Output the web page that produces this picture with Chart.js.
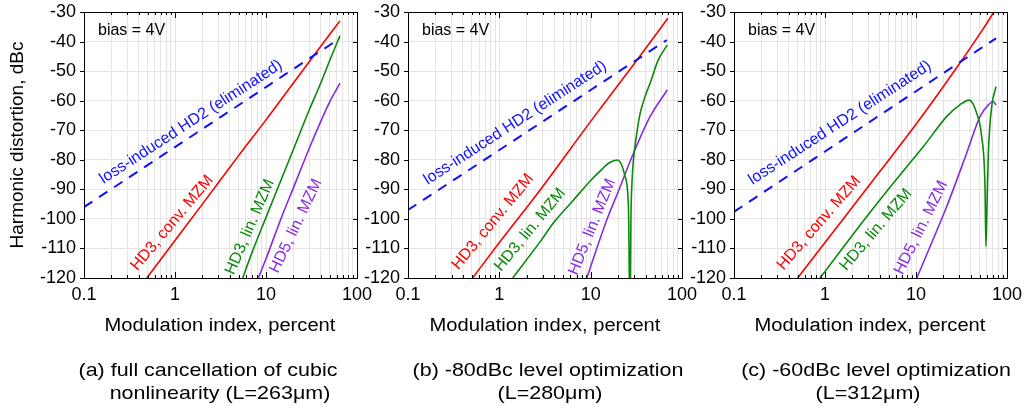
<!DOCTYPE html>
<html>
<head>
<meta charset="utf-8">
<script src="https://cdn.jsdelivr.net/npm/chart.js@4.4.1/dist/chart.umd.min.js"></script>
<style>
  html, body { margin: 0; padding: 0; background: #fff; }
  #wrap { position: relative; width: 1026px; height: 406px; overflow: hidden; }
  #wrap canvas { position: absolute; left: 0; top: 0; }
  .xtitle, .caption {
    position: absolute;
    font-family: "Liberation Sans", Arial, sans-serif;
    color: #000;
    text-align: center;
    white-space: nowrap;
    width: 400px;
  }
  .xtitle { font-size: 18px; line-height: 20px; top: 315px; transform: scaleX(1.12); }
  .caption { font-size: 19px; line-height: 23px; transform: scaleX(1.13); }
  .l1 { top: 358px; }
  .l2 { top: 381px; }
</style>
</head>
<body>
<div id="wrap">
  <canvas id="chartA" width="1026" height="406"></canvas>
  <canvas id="chartB" width="1026" height="406"></canvas>
  <canvas id="chartC" width="1026" height="406"></canvas>
  <div class="xtitle" style="left:20px">Modulation index, percent</div>
  <div class="xtitle" style="left:345px">Modulation index, percent</div>
  <div class="xtitle" style="left:670px">Modulation index, percent</div>
  <div class="caption l1" style="left:8px">(a) full cancellation of cubic</div>
  <div class="caption l2" style="left:20px">nonlinearity (L=263μm)</div>
  <div class="caption l1" style="left:348px">(b) -80dBc level optimization</div>
  <div class="caption l2" style="left:350px">(L=280μm)</div>
  <div class="caption l1" style="left:676px">(c) -60dBc level optimization</div>
  <div class="caption l2" style="left:668px">(L=312μm)</div>
</div>
<script>
// axis ticks
const xTickValues = [
  0.1, 0.2, 0.3, 0.4, 0.5, 0.6, 0.7, 0.8, 0.9,
  1, 2, 3, 4, 5, 6, 7, 8, 9,
  10, 20, 30, 40, 50, 60, 70, 80, 90, 100
];
const xTickLabels = ["0.1", "1", "10", "100"];
const yTickValues = [-120, -110, -100, -90, -80, -70, -60, -50, -40, -30];

// (a) full cancellation, L=263um
const aHd2X = [0.1, 1, 10, 65];
const aHd2Y = [-96, -75.7, -55.4, -38.9];
const aConvX = [0.49, 1, 2, 5, 10, 20, 40, 65];
const aConvY = [-120, -107.3, -95, -78.6, -66.5, -54, -41.6, -33];
const aLin3X = [5.55, 7, 10, 15, 20, 30, 40, 50, 65];
const aLin3Y = [-120, -111.5, -99.5, -86, -76.5, -63, -54, -46.5, -38];
const aLin5X = [8.24, 10, 15, 20, 30, 40, 50, 65];
const aLin5Y = [-120, -113.5, -99, -89.5, -76, -67, -60.5, -54.1];

// (b) -80dBc optimization, L=280um
const bHd2X = [0.1, 1, 10, 68];
const bHd2Y = [-97, -76.7, -56.4, -39.5];
const bConvX = [0.51, 1, 2.8, 10, 30, 70];
const bConvY = [-120, -108, -90.2, -67, -47.5, -32.1];
const bLin3X = [1.4, 2.8, 4, 6.5, 10, 13, 16, 19.6, 22, 23.8, 25.9, 27, 27.6, 28.3, 29.4, 32, 34.8, 40, 44.7, 55, 69];
const bLin3Y = [-120, -107.7, -101, -93.6, -87, -83.5, -81, -80.1, -82, -85.7, -95.9, -135, -100, -88, -80, -71, -64.3, -58, -54.1, -46.2, -41.2];
const bLin5X = [9.06, 15, 20, 29.4, 44.7, 69];
const bLin5Y = [-120, -100.4, -90.8, -77.8, -65.4, -56.4];

// (c) -60dBc optimization, L=312um
const cHd2X = [0.1, 1, 10, 75.7];
const cHd2Y = [-97.6, -77.2, -56.8, -38.9];
const cConvX = [0.5, 1, 4, 10, 30, 50, 70, 76];
const cConvY = [-120, -108, -84, -68, -47.5, -37.5, -30.5, -28.5];
const cLin3X = [0.88, 1, 2, 4, 8, 12, 21.7, 30, 38.5, 46.5, 52.7, 57.3, 58.7, 60.5, 62.4, 67.9, 75.7];
const cLin3Y = [-120, -117.8, -105.5, -93.6, -82.2, -75.6, -65.4, -61.5, -59.8, -64.3, -72.2, -89.1, -109.4, -94, -77.8, -62, -55.3];
const cLin5X = [10.2, 15, 21.7, 36, 50.5, 62, 70.8, 75.7];
const cLin5Y = [-120, -107.8, -95.9, -77.8, -65.4, -61.5, -60.3, -61.5];

const FONT = "'Liberation Sans', Arial, sans-serif";
const BLUE = "#1010ff";
const RED = "#ff0000";
const GREEN = "#0a8a0a";
const PURPLE = "#8a2be2";

const pts = (xs, ys) => xs.map((x, i) => ({ x: x, y: ys[i] }));

const lineSet = (xs, ys, color, dashed) => ({
  data: pts(xs, ys),
  borderColor: color,
  borderWidth: dashed ? 2 : 1.6,
  borderDash: dashed ? [10, 8] : [],
  pointRadius: 0,
  cubicInterpolationMode: "monotone",
  fill: false,
});

const isDecade = (v) => Math.abs(Math.log10(v) - Math.round(Math.log10(v))) < 1e-6;

// frame, inward ticks, in-plot labels
const framePlugin = {
  id: "frame",
  afterDatasetsDraw(chart, args, opts) {
    const ctx = chart.ctx;
    const a = chart.chartArea;
    const xs = chart.scales.x;
    const ys = chart.scales.y;
    ctx.save();
    ctx.strokeStyle = "#000";
    ctx.lineWidth = 1;
    ctx.strokeRect(a.left + 0.5, a.top + 0.5, a.right - a.left, a.bottom - a.top);
    ctx.beginPath();
    xTickValues.forEach((v) => {
      const px = Math.round(xs.getPixelForValue(v)) + 0.5;
      const len = isDecade(v) ? 6 : 3;
      ctx.moveTo(px, a.bottom);
      ctx.lineTo(px, a.bottom - len);
      ctx.moveTo(px, a.top);
      ctx.lineTo(px, a.top + len);
    });
    yTickValues.forEach((v) => {
      const py = Math.round(ys.getPixelForValue(v)) + 0.5;
      ctx.moveTo(a.left, py);
      ctx.lineTo(a.left - 4, py);
      ctx.moveTo(a.right, py);
      ctx.lineTo(a.right - 4, py);
    });
    ctx.stroke();

    ctx.fillStyle = "#000";
    ctx.font = "16px " + FONT;
    ctx.textAlign = "left";
    ctx.textBaseline = "middle";
    ctx.fillText("bias = 4V", a.left + 14, a.top + 19);

    (opts.labels || []).forEach((lb) => {
      ctx.save();
      ctx.translate(xs.getPixelForValue(lb.x), ys.getPixelForValue(lb.y));
      ctx.rotate((lb.angle * Math.PI) / 180);
      ctx.fillStyle = lb.color;
      ctx.font = "16px " + FONT;
      ctx.textAlign = "center";
      ctx.textBaseline = "middle";
      ctx.fillText(lb.text, 0, 0);
      ctx.restore();
    });
    ctx.restore();
  },
};

const makePanel = (id, box, series, labels, yTitle) => {
  const yWidth = yTitle ? 84 : 50;
  return new Chart(document.getElementById(id), {
    type: "line",
    data: { datasets: series },
    options: {
      responsive: false,
      animation: false,
      devicePixelRatio: 1,
      layout: {
        padding: { left: box.left - yWidth, right: 1026 - box.right, top: 12, bottom: 406 - 278 - 30 },
      },
      plugins: {
        legend: { display: false },
        tooltip: { enabled: false },
        frame: { labels: labels },
      },
      scales: {
        x: {
          type: "logarithmic",
          min: 0.1,
          max: 100,
          afterBuildTicks: (s) => {
            s.ticks = xTickValues.map((v) => ({ value: v }));
          },
          afterFit: (s) => {
            s.height = 30;
            s.paddingLeft = 0;
            s.paddingRight = 0;
          },
          ticks: {
            autoSkip: false,
            maxRotation: 0,
            padding: 6,
            color: "#000",
            font: { family: FONT, size: 18 },
            callback: (v) => (isDecade(v) ? xTickLabels[Math.round(Math.log10(v)) + 1] : ""),
          },
          grid: { color: "#e4e4e4", drawTicks: false },
          border: { display: false },
        },
        y: {
          min: -120,
          max: -30,
          afterBuildTicks: (s) => {
            s.ticks = yTickValues.map((v) => ({ value: v }));
          },
          afterFit: (s) => {
            s.width = yWidth;
            s.paddingTop = 0;
            s.paddingBottom = 0;
          },
          ticks: {
            padding: 8,
            color: "#000",
            font: { family: FONT, size: 18 },
          },
          grid: { color: "#e4e4e4", drawTicks: false },
          border: { display: false },
          title: {
            display: !!yTitle,
            text: yTitle || "",
            color: "#000",
            font: { family: FONT, size: 19 },
            padding: { top: 6, bottom: 0 },
          },
        },
      },
    },
    plugins: [framePlugin],
  });
};

makePanel(
  "chartA",
  { left: 84, right: 357 },
  [
    lineSet(aHd2X, aHd2Y, BLUE, true),
    lineSet(aConvX, aConvY, RED),
    lineSet(aLin3X, aLin3Y, GREEN),
    lineSet(aLin5X, aLin5Y, PURPLE),
  ],
  [
    { text: "loss-induced HD2 (eliminated)", x: 1.5, y: -67.2, angle: -33, color: BLUE },
    { text: "HD3, conv. MZM", x: 0.93, y: -101.4, angle: -50, color: RED },
    { text: "HD3, lin. MZM", x: 6.67, y: -102.7, angle: -66.7, color: GREEN },
    { text: "HD5, lin. MZM", x: 21.4, y: -102.4, angle: -64.6, color: PURPLE },
  ],
  "Harmonic distortion, dBc"
);

makePanel(
  "chartB",
  { left: 408, right: 682 },
  [
    lineSet(bHd2X, bHd2Y, BLUE, true),
    lineSet(bConvX, bConvY, RED),
    lineSet(bLin3X, bLin3Y, GREEN),
    lineSet(bLin5X, bLin5Y, PURPLE),
  ],
  [
    { text: "loss-induced HD2 (eliminated)", x: 1.49, y: -67.5, angle: -33, color: BLUE },
    { text: "HD3, conv. MZM", x: 0.85, y: -101, angle: -50.5, color: RED },
    { text: "HD3, lin. MZM", x: 2.17, y: -103.7, angle: -50.5, color: GREEN },
    { text: "HD5, lin. MZM", x: 10.4, y: -102.7, angle: -68, color: PURPLE },
  ]
);

makePanel(
  "chartC",
  { left: 734, right: 1007 },
  [
    lineSet(cHd2X, cHd2Y, BLUE, true),
    lineSet(cConvX, cConvY, RED),
    lineSet(cLin3X, cLin3Y, GREEN),
    lineSet(cLin5X, cLin5Y, PURPLE),
  ],
  [
    { text: "loss-induced HD2 (eliminated)", x: 1.46, y: -67.5, angle: -33, color: BLUE },
    { text: "HD3, conv. MZM", x: 0.86, y: -101.4, angle: -49, color: RED },
    { text: "HD3, lin. MZM", x: 3.63, y: -103.7, angle: -49.6, color: GREEN },
    { text: "HD5, lin. MZM", x: 11.4, y: -103, angle: -63.7, color: PURPLE },
  ]
);
</script>
</body>
</html>
